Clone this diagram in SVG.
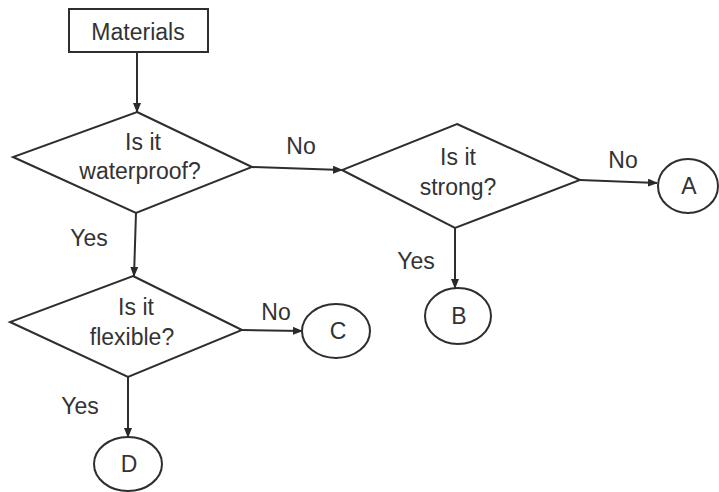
<svg xmlns="http://www.w3.org/2000/svg" width="719" height="492" viewBox="0 0 719 492">
<defs>
<marker id="ah" markerWidth="10" markerHeight="8" refX="9" refY="4" orient="auto" markerUnits="userSpaceOnUse">
<path d="M0,0 L10,4 L0,8 Z" fill="#2a2a2a"/>
</marker>
<style>
.s{fill:#fff;stroke:#2e2e2e;stroke-width:2}
.t{font-family:"Liberation Sans",Arial,sans-serif;font-size:23px;fill:#333;text-anchor:middle}
.c{fill:none;stroke:#2e2e2e;stroke-width:2;marker-end:url(#ah)}
</style>
</defs>
<rect width="719" height="492" fill="#fff"/>
<g id="connectors">
<line class="c" x1="137" y1="52" x2="137" y2="112"/>
<line class="c" x1="252" y1="167" x2="342" y2="170"/>
<line class="c" x1="580" y1="180" x2="657" y2="183"/>
<line class="c" x1="455" y1="228" x2="455" y2="288"/>
<line class="c" x1="136" y1="213" x2="134" y2="276"/>
<line class="c" x1="242" y1="330" x2="302" y2="331"/>
<line class="c" x1="128" y1="377" x2="128" y2="437"/>
<text class="t" x="301" y="154">No</text>
<text class="t" x="623" y="168">No</text>
<text class="t" x="89" y="246">Yes</text>
<text class="t" x="416" y="269">Yes</text>
<text class="t" x="276" y="320">No</text>
<text class="t" x="80" y="414">Yes</text>
</g>
<g id="materials">
<rect class="s" x="69" y="9" width="139" height="43"/>
<text class="t" x="138" y="40">Materials</text>
</g>
<g id="waterproof">
<polygon class="s" points="137,112 252,167 136,213 13,157"/>
<text class="t" x="143" y="150">Is it</text>
<text class="t" x="140" y="179">waterproof?</text>
</g>
<g id="strong">
<polygon class="s" points="457,124 580,180 455,228 342,170"/>
<text class="t" x="458" y="165">Is it</text>
<text class="t" x="458" y="195">strong?</text>
</g>
<g id="flexible">
<polygon class="s" points="133,276 242,330 128,377 10,322"/>
<text class="t" x="136" y="315">Is it</text>
<text class="t" x="132" y="345">flexible?</text>
</g>
<g id="A">
<ellipse class="s" cx="688" cy="186" rx="30" ry="27"/>
<text class="t" x="689" y="194">A</text>
</g>
<g id="B">
<ellipse class="s" cx="458" cy="316" rx="33" ry="28"/>
<text class="t" x="459" y="324">B</text>
</g>
<g id="C">
<ellipse class="s" cx="336" cy="331" rx="34" ry="27"/>
<text class="t" x="338" y="339">C</text>
</g>
<g id="D">
<ellipse class="s" cx="128" cy="464" rx="34" ry="27"/>
<text class="t" x="129" y="472">D</text>
</g>
</svg>
